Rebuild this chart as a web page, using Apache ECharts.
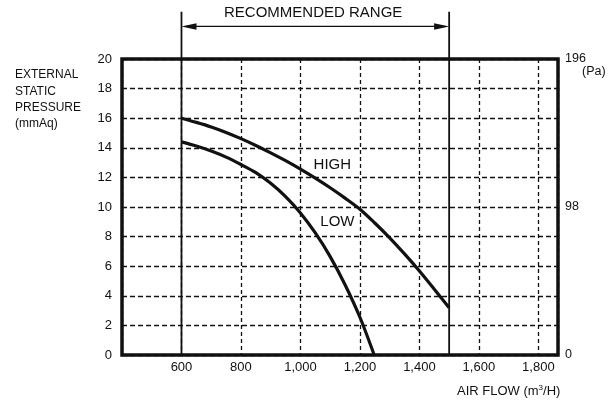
<!DOCTYPE html>
<html>
<head>
<meta charset="utf-8">
<script src="https://cdn.jsdelivr.net/npm/echarts@6/dist/echarts.min.js"></script>
<style>
html, body { margin: 0; padding: 0; background: #fff; }
#fanChart { width: 616px; height: 403px; }
</style>
</head>
<body>
<div id="fanChart"></div>
<script>
// air flow (m3/H) against external static pressure (mmAq)
var highFlow = [600, 650, 700, 750, 800, 850, 900, 950, 1000, 1050, 1100, 1150, 1200, 1250, 1300, 1350, 1400, 1450, 1500];
var highPressure = [16.0, 15.72, 15.41, 15.04, 14.62, 14.16, 13.66, 13.13, 12.56, 11.95, 11.3, 10.6, 9.85, 8.92, 7.92, 6.83, 5.68, 4.45, 3.2];
var lowFlow = [600, 650, 700, 750, 800, 850, 900, 950, 1000, 1050, 1100, 1150, 1200, 1248];
var lowPressure = [14.4, 14.12, 13.78, 13.37, 12.87, 12.32, 11.6, 10.7, 9.6, 8.25, 6.65, 4.75, 2.55, 0];

var xTickValues = [600, 800, 1000, 1200, 1400, 1600, 1800];
var xTickLabels = ['600', '800', '1,000', '1,200', '1,400', '1,600', '1,800'];
var paTickValues = [0, 98, 196];

// recommended range (m3/H)
var rangeFlow = [600, 1500];

var font = '"Liberation Sans", Arial, sans-serif';
var ink = '#111';

function pairs(xs, ys) {
  return xs.map(function (x, i) { return [x, ys[i]]; });
}

var highData = pairs(highFlow, highPressure);
highData[9] = {
  value: highData[9],
  label: {show: true, formatter: 'HIGH', position: 'inside', offset: [17, -13]}
};
var lowData = pairs(lowFlow, lowPressure);
lowData[8] = {
  value: lowData[8],
  label: {show: true, formatter: 'LOW', position: 'inside', offset: [37, 9]}
};

// vertical limits run up past the frame, arrow sits between them
function drawRange(params, api) {
  var x0 = api.value(0), x1 = api.value(1);
  var top = api.value(2), arrowY = api.value(3);
  var b0 = api.coord([x0, 0]), t0 = api.coord([x0, top]);
  var b1 = api.coord([x1, 0]), t1 = api.coord([x1, top]);
  var a0 = api.coord([x0, arrowY]), a1 = api.coord([x1, arrowY]);
  var lineStyle = {stroke: ink, lineWidth: 1.8};
  return {
    type: 'group',
    children: [
      {type: 'line', shape: {x1: b0[0], y1: b0[1], x2: t0[0], y2: t0[1]}, style: lineStyle},
      {type: 'line', shape: {x1: b1[0], y1: b1[1], x2: t1[0], y2: t1[1]}, style: lineStyle},
      {type: 'line', shape: {x1: a0[0] + 4, y1: a0[1], x2: a1[0] - 4, y2: a1[1]}, style: {stroke: ink, lineWidth: 1.3}},
      {type: 'polygon', shape: {points: [[a0[0], a0[1]], [a0[0] + 15, a0[1] - 3.3], [a0[0] + 15, a0[1] + 3.3]]}, style: {fill: ink}},
      {type: 'polygon', shape: {points: [[a1[0], a1[1]], [a1[0] - 15, a1[1] - 3.3], [a1[0] - 15, a1[1] + 3.3]]}, style: {fill: ink}}
    ]
  };
}

var chart = echarts.init(document.getElementById('fanChart'));

var option = {
  animation: false,
  backgroundColor: '#fff',
  textStyle: {fontFamily: font, color: ink},
  title: [
    {
      text: 'RECOMMENDED RANGE', left: 224, top: 4, padding: 0,
      textStyle: {fontFamily: font, fontSize: 15, fontWeight: 'normal', color: ink, lineHeight: 18}
    },
    {
      text: 'EXTERNAL\nSTATIC\nPRESSURE\n(mmAq)', left: 15, top: 67, padding: 0,
      textStyle: {fontFamily: font, fontSize: 12, fontWeight: 'normal', color: ink, lineHeight: 16.3}
    },
    {
      text: 'AIR FLOW (m{sup|3}/H)', left: 457, top: 384, padding: 0,
      textStyle: {
        fontFamily: font, fontSize: 13, fontWeight: 'normal', color: ink, lineHeight: 15,
        rich: {sup: {fontFamily: font, fontSize: 8, color: ink, padding: [0, 0, 7, 0]}}
      }
    },
    {
      text: '(Pa)', left: 582, top: 65, padding: 0,
      textStyle: {fontFamily: font, fontSize: 12.5, fontWeight: 'normal', color: ink, lineHeight: 14}
    }
  ],
  grid: {
    left: 122, right: 58, top: 59, bottom: 48,
    show: true, borderColor: ink, borderWidth: 3.5, backgroundColor: 'transparent'
  },
  xAxis: {
    type: 'value', min: 400, max: 1866, interval: 200,
    axisLine: {show: false},
    axisTick: {show: false},
    axisLabel: {
      margin: 6, fontFamily: font, fontSize: 13, color: ink,
      formatter: function (v) {
        var i = xTickValues.indexOf(v);
        return i < 0 ? '' : xTickLabels[i];
      }
    },
    splitLine: {lineStyle: {color: ink, width: 1.3, type: [4, 3]}}
  },
  yAxis: [
    {
      type: 'value', min: 0, max: 20, interval: 2, position: 'left',
      axisLine: {show: false},
      axisTick: {show: false},
      axisLabel: {margin: 10, fontFamily: font, fontSize: 13, color: ink, padding: [0, 0, 4, 0]},
      splitLine: {lineStyle: {color: ink, width: 1.3, type: [5, 3]}}
    },
    {
      type: 'value', min: 0, max: 196, interval: 98, position: 'right',
      axisLine: {show: false},
      axisTick: {show: false},
      axisLabel: {
        margin: 7, fontFamily: font, fontSize: 12.5, color: ink, padding: [0, 0, 4, 0],
        formatter: function (v) { return paTickValues.indexOf(v) < 0 ? '' : String(v); }
      },
      splitLine: {show: false}
    }
  ],
  series: [
    {
      name: 'HIGH', type: 'line', data: highData, smooth: 0.3,
      symbol: 'circle', symbolSize: 0, showSymbol: true,
      lineStyle: {color: ink, width: 3.2},
      itemStyle: {color: ink},
      label: {fontFamily: font, fontSize: 15, color: ink},
      z: 5
    },
    {
      name: 'LOW', type: 'line', data: lowData, smooth: 0.3,
      symbol: 'circle', symbolSize: 0, showSymbol: true,
      lineStyle: {color: ink, width: 3.2},
      itemStyle: {color: ink},
      label: {fontFamily: font, fontSize: 15, color: ink},
      z: 5
    },
    {
      type: 'custom', renderItem: drawRange, clip: false,
      encode: {x: [0, 1], y: [2, 3]},
      data: [[rangeFlow[0], rangeFlow[1], 23.2, 22.2]],
      z: 4
    }
  ]
};

chart.setOption(option);
</script>
</body>
</html>
